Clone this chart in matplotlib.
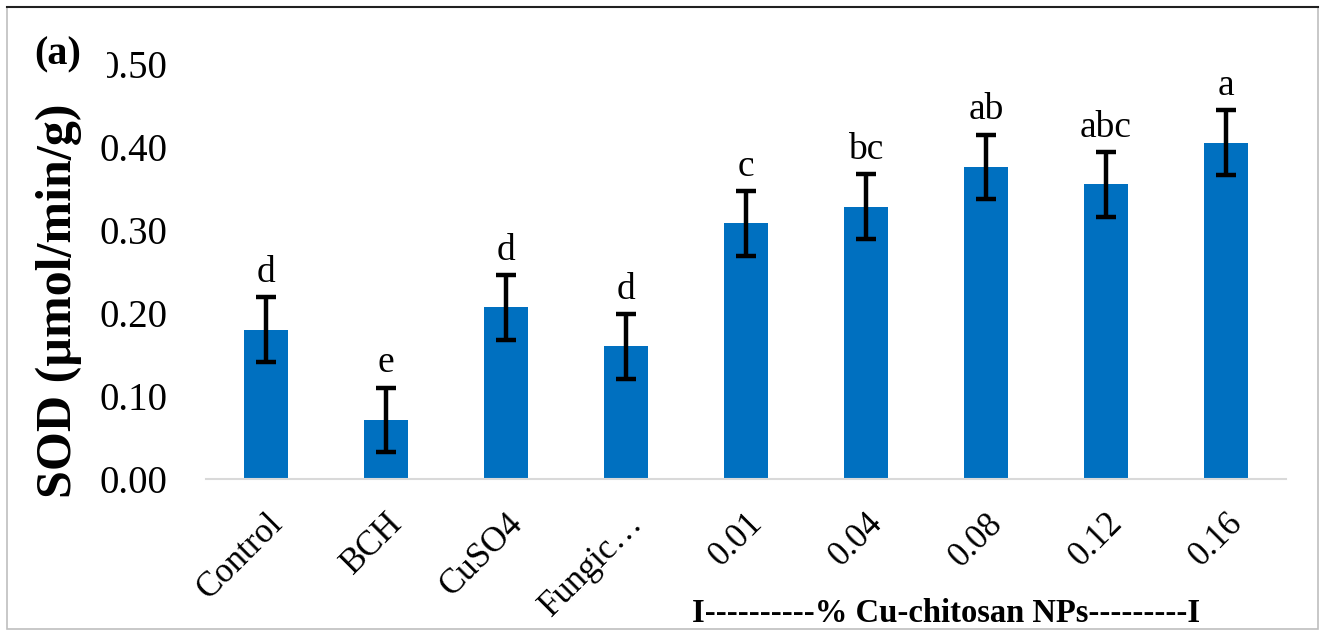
import matplotlib.pyplot as plt
from matplotlib.patches import Rectangle
from matplotlib.lines import Line2D

plt.rcParams['font.family'] = ['Liberation Serif', 'DejaVu Serif']

# SOD activity per treatment
treatments = ['Control', 'BCH', 'CuSO4', 'Fungic…', '0.01', '0.04', '0.08', '0.12', '0.16']
sod = [0.180, 0.071, 0.207, 0.160, 0.308, 0.328, 0.376, 0.355, 0.405]
sod_err = [0.039, 0.039, 0.039, 0.039, 0.039, 0.039, 0.039, 0.039, 0.039]
letters = ['d', 'e', 'd', 'd', 'c', 'bc', 'ab', 'abc', 'a']
yticks = [0.0, 0.1, 0.2, 0.3, 0.4, 0.5]

fig = plt.figure(figsize=(13.25, 6.33), dpi=100)
ax = fig.add_axes([206 / 1325, 154 / 633, 1080 / 1325, 415 / 633])

x = list(range(len(treatments)))
ax.bar(x, sod, width=0.36, color='#0070C0', zorder=2)
ax.errorbar(x, sod, yerr=sod_err, fmt='none', ecolor='black',
            elinewidth=3.2, capsize=7, capthick=3.2, zorder=3)

for xi, v, e, lab in zip(x, sod, sod_err, letters):
    ax.annotate(lab, (xi, v + e), xytext=(0, 11), textcoords='offset points',
                ha='center', va='baseline', fontsize=27)

ax.set_xlim(-0.5, len(treatments) - 0.5)
ax.set_ylim(0, 0.5)
ax.set_yticks(yticks)
ax.set_yticklabels([f'{t:.2f}' for t in yticks])
ax.tick_params(axis='y', length=0, pad=28, labelsize=28)
ax.set_xticks(x)
ax.set_xticklabels(treatments, rotation=45, ha='right', rotation_mode='anchor', fontsize=25)
for lbl in ax.get_xticklabels():
    lbl.set_x(lbl.get_position()[0])
ax.tick_params(axis='x', length=0, pad=20)

for s in ['left', 'right', 'top']:
    ax.spines[s].set_visible(False)
ax.spines['bottom'].set_color('#D9D9D9')
ax.spines['bottom'].set_linewidth(1.5)

ax.set_ylabel('SOD (µmol/min/g)', fontsize=36, fontweight='bold')
ax.yaxis.set_label_coords(-0.115, 0.43)

# white patch behind the panel tag, it hides part of the top tick label
fig.patches.append(Rectangle((28 / 1325, 1 - 96 / 633), 79 / 1325, 66 / 633,
                             transform=fig.transFigure, facecolor='white',
                             edgecolor='none', zorder=4))
fig.text(58 / 1325, 1 - 55 / 633, '(a)', fontsize=29, fontweight='bold',
         ha='center', va='center', zorder=5)

fig.text(946 / 1325, 1 - 613 / 633, 'I----------% Cu-chitosan NPs---------I',
         fontsize=23.5, fontweight='bold', ha='center', va='center')

# outer frame
fig.patches.append(Rectangle((7 / 1325, 4 / 633), 1311 / 1325, 622 / 633,
                             transform=fig.transFigure, fill=False,
                             edgecolor='#BFBFBF', linewidth=1.2))
fig.lines.append(Line2D([7 / 1325, 1318 / 1325], [1 - 7 / 633, 1 - 7 / 633],
                        transform=fig.transFigure, color='#202020', linewidth=1.5))

fig.savefig('out.png', dpi=100)
